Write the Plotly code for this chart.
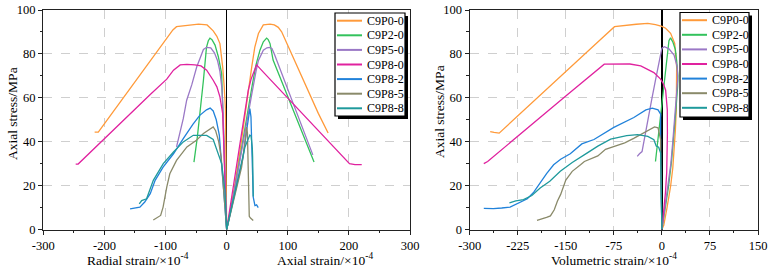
import plotly.graph_objects as go

# ---------------- data ----------------
names = ["C9P0-0", "C9P2-0", "C9P5-0", "C9P8-0", "C9P8-2", "C9P8-5", "C9P8-8"]
colors = ["#FF9A3A", "#33C25C", "#9A78C6", "#E0229F", "#2182DA", "#8A8A6A", "#1F9A9C"]

left_xticks = [-300, -200, -100, 0, 100, 200, 300]
left_xticktext = ["-300", "-200", "-100", "0", "100", "200", "300"]
right_xticks = [-300, -225, -150, -75, 0, 75, 150]
right_xticktext = ["-300", "-225", "-150", "-75", "0", "75", "150"]
yticks = [0, 20, 40, 60, 80, 100]

# C9P0-0
p00_rad_x = [0, -0.5, -1, -2, -4, -6.5, -11, -16, -22, -32, -46, -60, -75, -82, -88, -120, -150, -180, -207, -210, -216]
p00_rad_y = [0, 20, 40, 55, 65, 74, 84.7, 88, 90.5, 93.2, 93.6, 93, 92.6, 92.4, 90.9, 78.8, 67.5, 56.2, 46, 44.4, 44.4]
p00_ax_x = [0, 11, 22, 33, 41, 46, 52, 60, 71, 78, 84.5, 90, 110, 130, 150, 166]
p00_ax_y = [0, 16.3, 36, 59, 74, 83, 89.3, 93.2, 93.6, 93.2, 92.1, 90.1, 77.7, 65.3, 52.9, 44]
p00_vol_x = [0, 3, 8, 13.6, 17, 19, 21, 22.5, 23, 23, 20, 13.6, 5.8, 0, -10, -22, -40, -58, -74, -100, -150, -200, -240, -254, -262, -268]
p00_vol_y = [0, 2, 10, 19.7, 28, 35, 45, 55, 65, 74, 84.8, 89.4, 91.7, 92.5, 93.3, 93.9, 93.5, 92.8, 92.4, 85.4, 71.9, 58.5, 47.7, 43.9, 44.2, 44.6]

# C9P2-0
p20_rad_x = [0, -2, -4, -6, -8.2, -13.6, -19, -24, -27.3, -30, -33, -38, -43.5, -48, -53.5]
p20_rad_y = [0, 20, 40, 58, 71, 78.7, 84, 86.5, 87.2, 86, 83, 68, 52, 42, 30.7]
p20_ax_x = [0, 11, 22, 33, 42, 48, 54.5, 60, 65.4, 68, 71, 76, 90, 110, 130, 143]
p20_ax_y = [0, 15, 33, 52, 66, 75, 81.7, 85.5, 87.2, 86.5, 84.7, 77.2, 67.5, 53.6, 39.7, 30.7]
p20_vol_x = [0, 5, 10, 15, 19, 22, 24.5, 25, 23, 21, 17, 13.5, 11, 8, 5, 1, -3, -6, -10]
p20_vol_y = [0, 9, 19, 31, 43, 55, 65, 70, 77, 82, 85.5, 87.3, 86, 78, 68, 58, 47, 39, 31]

# C9P5-0
p50_rad_x = [0, -2, -4, -6, -8, -11, -15, -20, -26, -32.7, -38, -44, -49, -57, -65.4, -71, -76, -82]
p50_rad_y = [0, 20, 40, 55, 65, 72, 77, 80.5, 82.8, 83, 82, 78, 74, 66, 58.9, 50.5, 44, 37.6]
p50_ax_x = [0, 11, 22, 33, 42, 48, 52, 60, 66, 70, 74, 78, 90, 110, 130, 137, 141]
p50_ax_y = [0, 15, 32, 50, 63, 72, 77, 81.7, 82.8, 83, 82.5, 80, 71.2, 56.6, 42, 36, 34]
p50_vol_x = [0, 5, 10, 14, 17, 20, 22.5, 24.5, 24, 19, 11, 4, 0, -5, -10, -16, -22, -28, -31, -35, -38.5]
p50_vol_y = [0, 10, 20, 30, 40, 50, 60, 68, 74, 79.5, 82.3, 83.3, 82.6, 76, 68, 59, 49, 40, 35.5, 34.5, 33.3]

# C9P8-0
p80_rad_x = [0, -1.5, -3, -4.5, -6.5, -11, -16, -22, -32.7, -42, -52, -65, -76, -87, -98, -125, -153, -180, -207, -230, -243, -247]
p80_rad_y = [0, 15, 28, 40, 52.8, 60.4, 65, 68, 72.6, 74.5, 75, 75.2, 75, 72.6, 68.5, 61.5, 54, 46.7, 39.4, 33.2, 29.8, 29.8]
p80_ax_x = [0, 10, 20, 30, 35.4, 40, 45, 49, 60, 80, 100, 120, 140, 160, 180, 201, 210, 221]
p80_ax_y = [0, 18, 36, 54, 63.5, 68.5, 72.5, 75, 71.7, 65.8, 59.9, 54, 48, 42.1, 36.2, 30, 29.6, 29.6]
p80_vol_x = [0, 3, 5.5, 7.5, 8.4, 8.6, 8.4, 5.8, 2, -2, -12.5, -22, -33, -50, -70, -90, -150, -200, -250, -272, -278]
p80_vol_y = [0, 8, 16.7, 26, 34, 44, 54.5, 63.6, 66.5, 68.5, 71.5, 73, 74.5, 75.4, 75.5, 75.3, 60.8, 48.7, 36.6, 31, 30]

# C9P8-2
p82_rad_x = [0, -3, -6, -9, -12, -17, -22, -27, -33, -44, -55, -71, -87, -104, -117, -125, -134, -142, -150, -158]
p82_rad_y = [0, 10, 20, 32, 43, 50, 54, 55.3, 54.5, 52, 48, 41.4, 34.5, 28.4, 22.4, 16.3, 12.5, 10.2, 9.8, 9.4]
p82_ax_x = [0, 10, 20, 27, 32.7, 36, 38, 39.8, 40.9, 42, 43.5, 46.3, 49, 51.7]
p82_ax_y = [0, 12, 24.5, 33, 45, 51.5, 55.1, 51.3, 39, 25.3, 14.7, 10.9, 11.2, 10]
p82_vol_x = [0, -1, -1.5, -2, -2, -1.5, -2, -6, -15, -25, -43.8, -75, -106, -125, -143, -158, -169, -180, -190, -200, -210, -225, -237, -250, -263, -278]
p82_vol_y = [0, 10, 20, 30, 40, 48, 52.5, 54.5, 55.3, 54.5, 51, 46.5, 41, 39, 34.5, 32, 29.5, 25.5, 21.5, 17, 14, 12, 10.2, 9.8, 9.5, 9.6]

# C9P8-5
p85_rad_x = [0, -3, -6, -9, -13, -18, -22, -30, -38, -50, -65, -82, -93, -98, -101, -104, -108, -117, -120]
p85_rad_y = [0, 10, 22, 33, 40, 45, 46.7, 45, 43.7, 40.5, 37.6, 31.5, 25.4, 19.3, 14, 10.2, 6.4, 4.9, 4.3]
p85_ax_x = [0, 12, 24.5, 30, 32.7, 34, 34.8, 35.2, 35.5, 36, 37, 39, 41, 43.5]
p85_ax_y = [0, 14, 28.4, 40, 46.7, 44, 35, 25, 15, 8, 6, 5.2, 4.7, 4.1]
p85_vol_x = [0, -1, -1.5, -2, -2, -4, -6, -11.5, -20, -27, -44, -58, -88, -100, -121, -127, -140, -150, -158, -163, -168, -174, -180, -195]
p85_vol_y = [0, 10, 20, 30, 41, 44, 46.3, 46.7, 45.3, 44.3, 41.5, 39.5, 36.5, 33.5, 31, 29.5, 26.5, 22.5, 16, 13, 9, 6.2, 5.5, 4.2]

# C9P8-8
p88_rad_x = [0, -2.7, -8.2, -16.4, -22, -32.7, -45, -54.6, -71, -87, -103.7, -120, -128, -131, -139, -143]
p88_rad_y = [0, 17.8, 30, 36, 41, 42.9, 43, 42.9, 39.9, 35.3, 30, 22.4, 16.3, 14, 13.2, 11.7]
p88_ax_x = [0, 10, 19, 30, 35, 38, 40, 41, 42, 42.5, 43, 43.5, 43.5]
p88_ax_y = [0, 12, 23.9, 37.6, 41.5, 43, 42.5, 40.6, 37, 33, 27, 21, 15]
p88_vol_x = [0, -0.5, -1, -1.5, -2, -5, -8.9, -12.5, -22, -38, -55, -80, -100, -117, -140, -158.6, -175, -190, -203, -216, -228, -238]
p88_vol_y = [0, 10, 20, 28, 34.8, 37.5, 38, 40.9, 42.4, 43.2, 42.8, 41.2, 38, 34.8, 30.5, 26.5, 22, 18.9, 15.5, 13.6, 13, 12.1]

left_curves = [
    (p00_rad_x, p00_rad_y, p00_ax_x, p00_ax_y),
    (p20_rad_x, p20_rad_y, p20_ax_x, p20_ax_y),
    (p50_rad_x, p50_rad_y, p50_ax_x, p50_ax_y),
    (p80_rad_x, p80_rad_y, p80_ax_x, p80_ax_y),
    (p82_rad_x, p82_rad_y, p82_ax_x, p82_ax_y),
    (p85_rad_x, p85_rad_y, p85_ax_x, p85_ax_y),
    (p88_rad_x, p88_rad_y, p88_ax_x, p88_ax_y),
]
vol_curves = [
    (p00_vol_x, p00_vol_y), (p20_vol_x, p20_vol_y), (p50_vol_x, p50_vol_y),
    (p80_vol_x, p80_vol_y), (p82_vol_x, p82_vol_y), (p85_vol_x, p85_vol_y),
    (p88_vol_x, p88_vol_y),
]

# ---------------- figure ----------------
W, H = 768, 268
FONT = "Liberation Serif, Times New Roman, serif"
fig = go.Figure()

for i, (rx, ry, ax, ay) in enumerate(left_curves):
    for xs, ys in ((rx, ry), (ax, ay)):
        fig.add_trace(go.Scatter(x=xs, y=ys, mode="lines", name=names[i],
                                 line=dict(color=colors[i], width=1.3),
                                 xaxis="x", yaxis="y", showlegend=False,
                                 hoverinfo="skip"))
for i, (vx, vy) in enumerate(vol_curves):
    fig.add_trace(go.Scatter(x=vx, y=vy, mode="lines", name=names[i],
                             line=dict(color=colors[i], width=1.3),
                             xaxis="x2", yaxis="y2", showlegend=False,
                             hoverinfo="skip"))

def px_x(p):
    return p / W

def px_y(p):
    return 1 - p / H

ydom = [px_y(229.5), px_y(10)]
common_axis = dict(
    automargin=False, ticklabeloverflow="allow",
    showline=True, linecolor="#222", linewidth=1.2, mirror=True,
    ticks="outside", ticklen=4, tickwidth=1, tickcolor="#222",
    showgrid=True, gridcolor="#cfcfcf", griddash="dash", gridwidth=1,
    tickfont=dict(family=FONT, size=12.5, color="black"),
)

fig.update_layout(
    template="none",
    width=W, height=H, autosize=False,
    margin=dict(l=0, r=0, t=0, b=0, pad=0),
    paper_bgcolor="white", plot_bgcolor="white",
    showlegend=False, hovermode=False,
    font=dict(family=FONT, size=13, color="black"),
    xaxis=dict(domain=[px_x(43.3), px_x(410)], range=[-300, 300], anchor="y",
               tickmode="array", tickvals=left_xticks, ticktext=left_xticktext,
               minor=dict(tickmode="linear", tick0=-300, dtick=50, ticks="outside",
                          ticklen=2.5, tickcolor="#222", showgrid=False),
               zeroline=True, zerolinecolor="black", zerolinewidth=1.6,
               **common_axis),
    yaxis=dict(domain=ydom, range=[0, 100], anchor="x",
               tickmode="array", tickvals=yticks,
               minor=dict(tickmode="linear", tick0=0, dtick=10, ticks="outside",
                          ticklen=2.5, tickcolor="#222", showgrid=False),
               zeroline=False, **common_axis),
    xaxis2=dict(domain=[px_x(469.7), px_x(758)], range=[-300, 150], anchor="y2",
                tickmode="array", tickvals=right_xticks, ticktext=right_xticktext,
                minor=dict(tickmode="linear", tick0=-300, dtick=37.5, ticks="outside",
                           ticklen=2.5, tickcolor="#222", showgrid=False),
                zeroline=True, zerolinecolor="black", zerolinewidth=1.6,
                **common_axis),
    yaxis2=dict(domain=ydom, range=[0, 100], anchor="x2",
                tickmode="array", tickvals=yticks,
                minor=dict(tickmode="linear", tick0=0, dtick=10, ticks="outside",
                           ticklen=2.5, tickcolor="#222", showgrid=False),
                zeroline=False, **common_axis),
)

title_font = dict(family=FONT, size=13.5, color="black")
def title(text, x, y, angle=0):
    return dict(text=text, xref="paper", yref="paper", x=px_x(x), y=px_y(y),
                xanchor="center", yanchor="middle", textangle=angle,
                showarrow=False, font=title_font)

annots = [
    title("Radial strain/×10<sup>-4</sup>", 138, 259.5),
    title("Axial strain/×10<sup>-4</sup>", 325, 259.5),
    title("Volumetric strain/×10<sup>-4</sup>", 614, 259.5),
    title("Axial stress/MPa", 12, 114, -90),
    title("Axial stress/MPa", 439, 112, -90),
]

# custom legends (legend box with drop shadow)
shapes = []
legend_boxes = [(335, 405, 13, 116), (680, 749, 12.5, 117)]
for (bx0, bx1, by0, by1) in legend_boxes:
    shapes.append(dict(type="rect", xref="paper", yref="paper",
                       x0=px_x(bx0 + 3), x1=px_x(bx1 + 3), y0=px_y(by1 + 3), y1=px_y(by0 + 3),
                       fillcolor="black", line=dict(width=0), layer="above"))
    shapes.append(dict(type="rect", xref="paper", yref="paper",
                       x0=px_x(bx0), x1=px_x(bx1), y0=px_y(by1), y1=px_y(by0),
                       fillcolor="white", line=dict(color="black", width=1.2), layer="above"))
    for i, nm in enumerate(names):
        yc = by0 + 7.7 + i * 14.6
        shapes.append(dict(type="line", xref="paper", yref="paper",
                           x0=px_x(bx0 + 2), x1=px_x(bx0 + 27), y0=px_y(yc), y1=px_y(yc),
                           line=dict(color=colors[i], width=2), layer="above"))
        annots.append(dict(text=nm, xref="paper", yref="paper", x=px_x(bx0 + 30), y=px_y(yc),
                           xanchor="left", yanchor="middle", showarrow=False,
                           font=dict(family=FONT, size=12, color="black")))

fig.update_layout(annotations=annots, shapes=shapes)
fig.write_html("out.html", config={"displayModeBar": False, "staticPlot": True},
               post_script="document.body.style.margin='0';document.body.style.padding='0';")
